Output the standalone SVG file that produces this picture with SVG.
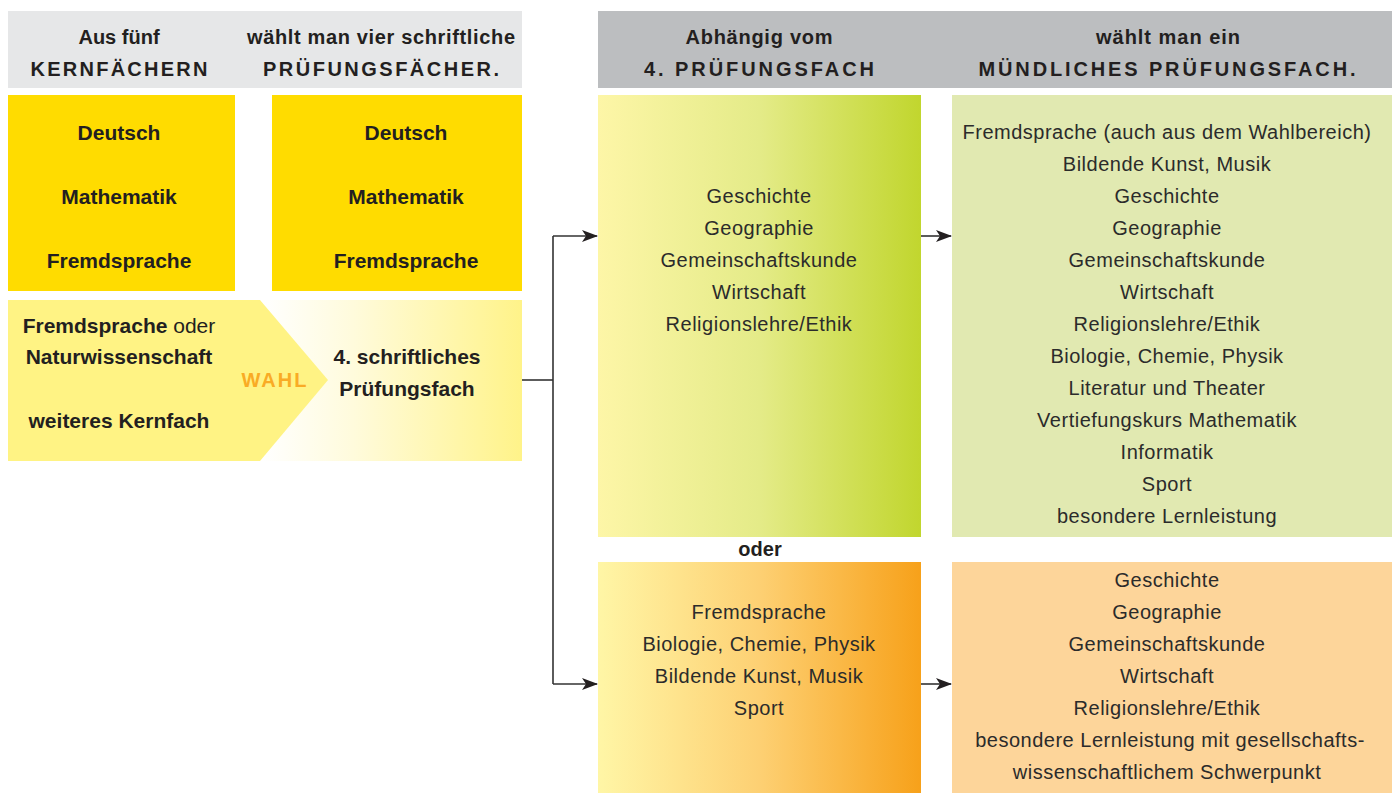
<svg xmlns="http://www.w3.org/2000/svg" width="1392" height="793" viewBox="0 0 1392 793">
<style>
.b{font-family:"Liberation Sans",Arial,sans-serif;font-weight:bold;font-size:20px;fill:#231f20;text-anchor:middle}
.bb{font-size:21px}
.r{font-family:"Liberation Sans",Arial,sans-serif;font-size:20px;fill:#2b2b2b;text-anchor:middle;letter-spacing:0.5px}
.caps{letter-spacing:2px}
.conn{fill:none;stroke:#333;stroke-width:1.6}
</style>
<defs>
<marker id="arr" viewBox="0 0 16 12" refX="15" refY="6" markerWidth="16" markerHeight="12" markerUnits="userSpaceOnUse" orient="auto">
<path d="M0,0 L16,6 L0,12 L4,6 Z" fill="#231f20"/>
</marker>
<linearGradient id="gY" x1="0" x2="1" y1="0" y2="0">
<stop offset="0" stop-color="#ffffff"/>
<stop offset="0.35" stop-color="#fffbdc"/>
<stop offset="1" stop-color="#fff389"/>
</linearGradient>
<linearGradient id="gG" x1="0" x2="1" y1="0" y2="0">
<stop offset="0" stop-color="#fdf6a7"/>
<stop offset="0.5" stop-color="#e4eb88"/>
<stop offset="1" stop-color="#c1d62e"/>
</linearGradient>
<linearGradient id="gO" x1="0" x2="1" y1="0" y2="0">
<stop offset="0" stop-color="#fff6a6"/>
<stop offset="0.5" stop-color="#fdd073"/>
<stop offset="1" stop-color="#f7a11a"/>
</linearGradient>
</defs>
<rect width="1392" height="793" fill="#ffffff"/>

<g id="header-left">
<rect x="8" y="11" width="514" height="77" fill="#e6e7e8"/>
<text class="b" x="119" y="44">Aus fünf</text>
<text class="b caps" x="120" y="76" textLength="179">KERNFÄCHERN</text>
<text class="b" x="381" y="44" textLength="268">wählt man vier schriftliche</text>
<text class="b caps" x="382" y="76" textLength="238">PRÜFUNGSFÄCHER.</text>
</g>

<g id="header-right">
<rect x="598" y="11" width="794" height="77" fill="#bcbec0"/>
<text class="b" x="759" y="44" textLength="147">Abhängig vom</text>
<text class="b caps" x="760" y="76" textLength="232">4. PRÜFUNGSFACH</text>
<text class="b" x="1168" y="44" textLength="144">wählt man ein</text>
<text class="b caps" x="1168" y="76" textLength="379">MÜNDLICHES PRÜFUNGSFACH.</text>
</g>

<g id="kernfaecher">
<rect x="8" y="95" width="227" height="196" fill="#ffdc00"/>
<text class="b bb" x="119" y="139.5">Deutsch</text>
<text class="b bb" x="119" y="203.5">Mathematik</text>
<text class="b bb" x="119" y="267.5">Fremdsprache</text>
</g>

<g id="pruefungsfaecher">
<rect x="272" y="95" width="250" height="196" fill="#ffdc00"/>
<text class="b bb" x="406" y="139.5">Deutsch</text>
<text class="b bb" x="406" y="203.5">Mathematik</text>
<text class="b bb" x="406" y="267.5">Fremdsprache</text>
</g>

<g id="viertes-fach">
<rect x="262" y="300" width="260" height="161" fill="url(#gY)"/>
<text class="b bb" x="407" y="364">4. schriftliches</text>
<text class="b bb" x="407" y="396">Prüfungsfach</text>
</g>

<g id="wahl">
<polygon points="8,300 260,300 328,380 260,461 8,461" fill="#fff384"/>
<text class="b bb" x="119" y="333"><tspan>Fremdsprache</tspan><tspan font-weight="normal"> oder</tspan></text>
<text class="b bb" x="119" y="364">Naturwissenschaft</text>
<text class="b bb" x="119" y="428">weiteres Kernfach</text>
<text class="b" x="275" y="387" style="fill:#f9ab25;letter-spacing:2px;font-size:20px">WAHL</text>
</g>

<g id="gruppe-gesellschaft">
<rect x="598" y="95" width="323" height="442" fill="url(#gG)"/>
<text class="r" x="759" y="203">Geschichte</text>
<text class="r" x="759" y="235">Geographie</text>
<text class="r" x="759" y="267">Gemeinschaftskunde</text>
<text class="r" x="759" y="299">Wirtschaft</text>
<text class="r" x="759" y="331">Religionslehre/Ethik</text>
</g>

<g id="oder">
<text class="b" x="760" y="556">oder</text>
</g>

<g id="gruppe-sprache">
<rect x="598" y="562" width="323" height="231" fill="url(#gO)"/>
<text class="r" x="759" y="619">Fremdsprache</text>
<text class="r" x="759" y="651">Biologie, Chemie, Physik</text>
<text class="r" x="759" y="683">Bildende Kunst, Musik</text>
<text class="r" x="759" y="715">Sport</text>
</g>

<g id="muendlich-1">
<rect x="952" y="95" width="440" height="442" fill="#e1e9b1"/>
<text class="r" x="1167" y="139">Fremdsprache (auch aus dem Wahlbereich)</text>
<text class="r" x="1167" y="171">Bildende Kunst, Musik</text>
<text class="r" x="1167" y="203">Geschichte</text>
<text class="r" x="1167" y="235">Geographie</text>
<text class="r" x="1167" y="267">Gemeinschaftskunde</text>
<text class="r" x="1167" y="299">Wirtschaft</text>
<text class="r" x="1167" y="331">Religionslehre/Ethik</text>
<text class="r" x="1167" y="363">Biologie, Chemie, Physik</text>
<text class="r" x="1167" y="395">Literatur und Theater</text>
<text class="r" x="1167" y="427">Vertiefungskurs Mathematik</text>
<text class="r" x="1167" y="459">Informatik</text>
<text class="r" x="1167" y="491">Sport</text>
<text class="r" x="1167" y="523">besondere Lernleistung</text>
</g>

<g id="muendlich-2">
<rect x="952" y="562" width="440" height="231" fill="#fdd59a"/>
<text class="r" x="1167" y="587">Geschichte</text>
<text class="r" x="1167" y="619">Geographie</text>
<text class="r" x="1167" y="651">Gemeinschaftskunde</text>
<text class="r" x="1167" y="683">Wirtschaft</text>
<text class="r" x="1167" y="715">Religionslehre/Ethik</text>
<text class="r" x="1170" y="747">besondere Lernleistung mit gesellschafts-</text>
<text class="r" x="1167" y="779">wissenschaftlichem Schwerpunkt</text>
</g>

<g id="connectors">
<path class="conn" d="M522,380 H553"/>
<path class="conn" d="M553,236 V684"/>
<path class="conn" d="M553,236 H597" marker-end="url(#arr)"/>
<path class="conn" d="M553,684 H597" marker-end="url(#arr)"/>
<path class="conn" d="M921,236 H951" marker-end="url(#arr)"/>
<path class="conn" d="M921,684 H951" marker-end="url(#arr)"/>
</g>
</svg>
